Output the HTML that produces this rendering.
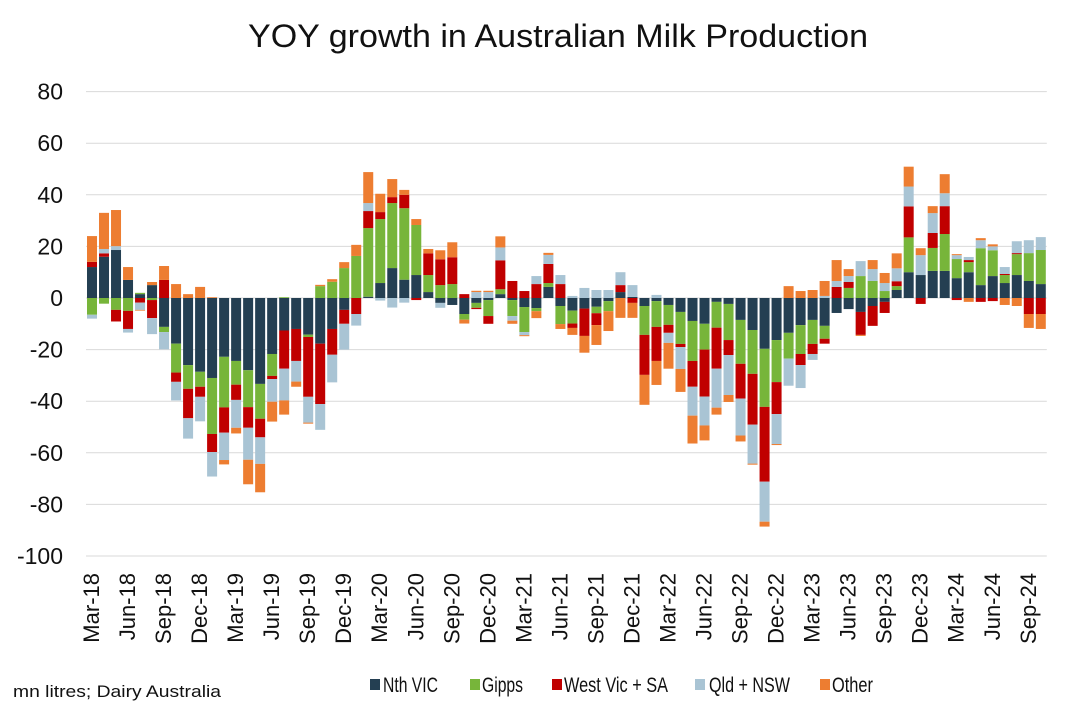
<!DOCTYPE html>
<html><head><meta charset="utf-8"><style>
body{margin:0;background:#fff;}
svg{display:block;font-family:"Liberation Sans",sans-serif;}
</style></head><body>
<svg id="chart" width="1073" height="715" viewBox="0 0 1073 715" xmlns="http://www.w3.org/2000/svg">
<text x="248" y="47" font-size="32" fill="#111" textLength="620" lengthAdjust="spacingAndGlyphs">YOY growth in Australian Milk Production</text>
<g id="grid"></g>
<g id="yt"></g>
<g id="bars"></g>
<g id="xt"></g>
<text x="13" y="697" font-size="17" fill="#111" textLength="208" lengthAdjust="spacingAndGlyphs">mn litres; Dairy Australia</text>
<g font-size="21" fill="#111">
<g><rect x="370" y="679" width="10" height="11" fill="#243F52"/><text x="383" y="692" textLength="55" lengthAdjust="spacingAndGlyphs">Nth VIC</text></g>
<g><rect x="470" y="679" width="10" height="11" fill="#77B53A"/><text x="482" y="692" textLength="41" lengthAdjust="spacingAndGlyphs">Gipps</text></g>
<g><rect x="552" y="679" width="10" height="11" fill="#C00000"/><text x="564" y="692" textLength="104" lengthAdjust="spacingAndGlyphs">West Vic + SA</text></g>
<g><rect x="695" y="679" width="10" height="11" fill="#A9C4D4"/><text x="709" y="692" textLength="81" lengthAdjust="spacingAndGlyphs">Qld + NSW</text></g>
<g><rect x="820" y="679" width="10" height="11" fill="#ED7D31"/><text x="832" y="692" textLength="41" lengthAdjust="spacingAndGlyphs">Other</text></g>
</g>
</svg>
<script>
const nthVic=[12,16,18.6,7,1.5,5,-11.2,-17.7,-26,-28.6,-31,-22.8,-24.4,-28,-33.3,-21.7,-12.6,-12,-14.2,-17.7,-12,-4.6,0,0.5,5.8,11.6,7.1,8.9,2.3,-1.9,-2.7,-6.2,-1.9,-0.8,1.5,-0.8,-3.5,-3.9,4.3,-3.1,-4.9,-4.1,-3.4,-1.2,2.3,0.4,-3.1,-1.2,-2.7,-5.4,-8.9,-10,-1.5,-2.3,-8.5,-12.4,-19.7,-16.3,-13.5,-10.5,-8.5,-10.8,-5.8,-4.3,-5.4,-3.1,-1.5,3.1,10,8.9,10.5,10.5,7.7,10,5,8.5,5.8,8.9,6.6,5.4];
const gipps=[-6.5,-2.2,-4.6,-5,0.5,-0.8,-2,-11.2,-9.2,-5.8,-21.7,-19.6,-9.2,-14.3,-13.5,-8.5,0.3,0,-0.9,4.6,6.3,11.6,16.3,26.6,24.8,25.2,27.7,19.4,6.6,5,5.4,-2.2,-1.9,-6.2,1.9,-6.2,-9.7,-1.2,1.5,-7,-5,0,-2.5,-3.9,0,0,-11.2,-10,-7.7,-12.4,-15.5,-10,-10,-14,-17,-17,-22.5,-16.3,-10,-11.2,-9.3,-5,0,3.9,8.5,6.6,2.7,1.5,13.5,0,8.9,14.3,7.4,3.9,14.3,10,3.1,8.1,10.8,13.2];
const westVicSa=[2,1.3,-4.5,-7,-1.8,-7,7,-3.6,-11.4,-3.9,-7,-9.8,-5.9,-8,-7.2,-1.2,-14.8,-12.4,-23.2,-23.4,-10,-5.4,-6.2,6.6,2.7,2.3,5.2,-0.8,8.4,10,10.4,1.5,-0.5,-3,11.2,6.6,2.7,5.4,7.4,5.4,-1.7,-10.6,-4.6,0,2.7,-1.9,-15.5,-13.2,-3.1,-1.2,-10,-18.2,-15.9,-5.8,-13.5,-19.7,-29,-12.4,0,-4.3,-3.9,-1.9,4.3,2.3,-8.9,-7.7,-4.3,1.9,12,-2.3,5.8,10.8,-0.8,0.8,-1.5,-1.2,0.4,0.4,-6.2,-6.2];
const qldNsw=[-1.5,1.7,1.5,-1.4,-2.8,-6.2,-6.7,-7.2,-7.9,-9.5,-9.5,-10.6,-10.8,-12.4,-10.3,-8.8,-12.3,-8,-10,-10,-10.7,-10,-4.5,3.1,-1,-3.7,-1.8,0,0,-1.9,0,0,2.3,2.3,5,-1.8,-1.2,3.1,3.5,3.5,0.8,3.9,3.1,3.1,5,4.6,0,1.2,-3.9,-8.5,-11.2,-11.2,-15.1,-15.5,-14.3,-15.1,-15.5,-11.6,-10.5,-8.9,-2.3,0.8,2.3,2.3,5.8,4.6,3.1,5,7.7,7.7,7.7,5,1.5,1.2,3.1,1.5,2.7,4.6,5,5];
const other=[10,14,14,5,-0.3,1.2,5.4,5.4,1.5,4.3,0.3,-1.7,-2.2,-9.5,-11,-7.7,-5.5,-2,-0.4,0.5,1,2.3,4.3,12,7.1,7,1.9,2.3,1.7,3.5,5.8,-1.5,0.5,0.5,4.3,-1.2,-0.4,-2.7,0.8,-1.9,-2.7,-6.5,-7.7,-7.7,-7.7,-5.8,-11.6,-9.3,-10,-8.9,-10.8,-5.8,-2.7,-2.7,-2.3,-0.4,-1.9,-0.4,4.6,2.7,3.1,5.8,8.1,2.7,-0.4,3.5,3.9,5.8,7.7,2.7,2.7,7.4,0.4,-1.5,0.8,0.8,-2.7,-3.1,-5.4,-5.8];
const xTickLabels=["Mar-18","Jun-18","Sep-18","Dec-18","Mar-19","Jun-19","Sep-19","Dec-19","Mar-20","Jun-20","Sep-20","Dec-20","Mar-21","Jun-21","Sep-21","Dec-21","Mar-22","Jun-22","Sep-22","Dec-22","Mar-23","Jun-23","Sep-23","Dec-23","Mar-24","Jun-24","Sep-24"];
const yTicks=[80,60,40,20,0,-20,-40,-60,-80,-100];

const NS="http://www.w3.org/2000/svg";
const X0=86, BAND=12.01, BW=10, Y0=298, PPU=2.58;
const y=v=>Y0-v*PPU;
const xc=i=>X0+BAND*(i+0.5);
function mk(tag,attrs,parent){const e=document.createElementNS(NS,tag);for(const k in attrs)e.setAttribute(k,attrs[k]);parent.appendChild(e);return e;}
const grid=document.getElementById('grid'),yt=document.getElementById('yt'),bars=document.getElementById('bars'),xt=document.getElementById('xt');
yTicks.forEach(t=>{
  const l=mk('line',{x1:X0,x2:X0+BAND*80,y1:y(t),y2:y(t),stroke:'#d9d9d9','stroke-width':1},grid);
  
  
  const tx=mk('text',{x:63,y:y(t)+8,'text-anchor':'end','font-size':23,fill:'#111'},yt);
  tx.textContent=t;
  
  
});
const series=[{d:nthVic,c:'#243F52',n:'nth-vic'},{d:gipps,c:'#77B53A',n:'gipps'},{d:westVicSa,c:'#C00000',n:'west-vic-sa'},{d:qldNsw,c:'#A9C4D4',n:'qld-nsw'},{d:other,c:'#ED7D31',n:'other'}];
for(let i=0;i<nthVic.length;i++){
  let pos=0,neg=0;
  series.forEach(s=>{
    const v=s.d[i]; if(!v)return;
    let a,b;
    if(v>0){a=pos;b=pos+v;pos=b;}else{a=neg;b=neg+v;neg=b;}
    const r=mk('rect',{x:xc(i)-BW/2,y:Math.min(y(a),y(b)),width:BW,height:Math.abs(y(a)-y(b)),fill:s.c},bars);
    
    
  });
}
xTickLabels.forEach((lab,k)=>{
  const i=k*3, px=xc(i)+7, py=573;
  const t=mk('text',{x:px,y:py,'text-anchor':'end','font-size':22,fill:'#111',transform:'rotate(-90 '+px+' '+py+')'},xt);
  t.textContent=lab;
  
  
});
</script>
</body></html>
